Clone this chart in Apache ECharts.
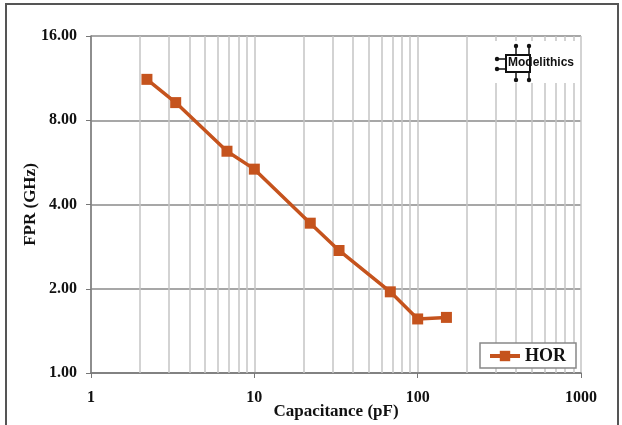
<!DOCTYPE html>
<html>
<head>
<meta charset="utf-8">
<script src="https://cdn.jsdelivr.net/npm/echarts@6/dist/echarts.min.js"></script>
<style>
  html, body { margin: 0; padding: 0; background: #fff; }
  #graph { width: 622px; height: 425px; }
</style>
</head>
<body>
<div id="graph"></div>
<script>
// capacitance (pF) and first parallel resonance (GHz)
var capacitance = [2.2, 3.3, 6.8, 10, 22, 33, 68, 100, 150];
var fpr = [11.2, 9.25, 6.2, 5.35, 3.43, 2.74, 1.95, 1.56, 1.58];
var yTicks = [1, 2, 4, 8, 16];
var xTicks = [1, 10, 100, 1000];

// minor vertical grid lines 2..9 in each decade
var minorX = [];
[1, 10, 100].forEach(function (d) {
    for (var k = 2; k <= 9; k++) minorX.push({ xAxis: k * d });
});

var dom = document.getElementById("graph");
var myChart = echarts.init(dom);
var serif = '"Liberation Serif", "DejaVu Serif", serif';
var ink = '#111';

function pin(x1, y1, x2, y2) {
    return [
        { type: 'line', z: 51, shape: { x1: x1, y1: y1, x2: x2, y2: y2 }, style: { stroke: ink, lineWidth: 1.5 } },
        { type: 'circle', z: 51, shape: { cx: x1, cy: y1, r: 2.2 }, style: { fill: ink } }
    ];
}

var logo = [
    { type: 'rect', z: 50, shape: { x: 492, y: 41, width: 86, height: 42 }, style: { fill: '#fff' } },
    { type: 'rect', z: 51, shape: { x: 506, y: 55, width: 24, height: 17 }, style: { fill: 'none', stroke: ink, lineWidth: 2 } }
].concat(
    pin(516, 46, 516, 55), pin(529, 46, 529, 55),
    pin(516, 80, 516, 72), pin(529, 80, 529, 72),
    pin(497, 59, 506, 59), pin(497, 69, 506, 69),
    [{
        type: 'text', x: 508, y: 57, z: 52,
        style: { text: 'Modelithics', fill: ink, font: 'bold 12px "Liberation Sans", Arial, sans-serif' }
    }]
);

var option = {
    backgroundColor: '#fff',
    animation: false,
    grid: { left: 91, right: 41, top: 36, bottom: 52, outerBoundsMode: 'none', containLabel: false },
    graphic: {
        elements: [
            {
                type: 'rect', shape: { x: 6, y: 4, width: 612, height: 430 },
                style: { fill: 'none', stroke: '#555', lineWidth: 2 }, z: 100
            }
        ].concat(logo)
    },
    legend: {
        right: 46, bottom: 57,
        data: ['HOR'],
        backgroundColor: '#fff',
        borderColor: '#888',
        borderWidth: 1.5,
        padding: [4, 10, 3, 8],
        itemWidth: 30,
        itemHeight: 13,
        itemGap: 4,
        itemStyle: { color: '#C5531D' },
        lineStyle: { width: 4 },
        textStyle: { fontFamily: serif, fontWeight: 'bold', fontSize: 18, color: ink }
    },
    xAxis: {
        type: 'log',
        logBase: 10,
        min: 1,
        max: 1000,
        name: 'Capacitance (pF)',
        nameLocation: 'middle',
        nameGap: 30,
        nameMoveOverlap: false,
        nameTextStyle: { fontFamily: serif, fontWeight: 'bold', fontSize: 17, color: ink },
        axisLine: { lineStyle: { color: '#777', width: 1.5 } },
        axisTick: { show: true, length: 5, lineStyle: { color: '#777' } },
        axisLabel: {
            fontFamily: serif, fontWeight: 'bold', fontSize: 16, color: ink, margin: 17,
            formatter: function (v) { return xTicks.indexOf(Math.round(v)) >= 0 ? String(Math.round(v)) : ''; }
        },
        splitLine: { show: true, lineStyle: { color: '#c4c4c4', width: 1.5 } }
    },
    yAxis: {
        type: 'log',
        logBase: 2,
        min: 1,
        max: 16,
        interval: 1,
        name: 'FPR (GHz)',
        nameLocation: 'middle',
        nameGap: 52,
        nameMoveOverlap: false,
        nameTextStyle: { fontFamily: serif, fontWeight: 'bold', fontSize: 17, color: ink },
        axisLine: { show: true, lineStyle: { color: '#777', width: 1.5 } },
        axisTick: { show: true, length: 5, lineStyle: { color: '#777' } },
        axisLabel: {
            fontFamily: serif, fontWeight: 'bold', fontSize: 16, color: ink, margin: 14,
            formatter: function (v) { return yTicks.indexOf(Math.round(v)) >= 0 ? Number(v).toFixed(2) : ''; }
        },
        splitLine: { show: true, lineStyle: { color: '#8a8a8a', width: 1.5 } }
    },
    series: [{
        name: 'HOR',
        type: 'line',
        data: capacitance.map(function (c, i) { return [c, fpr[i]]; }),
        symbol: 'rect',
        symbolSize: 11,
        itemStyle: { color: '#C5531D' },
        lineStyle: { color: '#C5531D', width: 3.5 },
        z: 10,
        markLine: {
            silent: true,
            symbol: 'none',
            label: { show: false },
            lineStyle: { color: '#c4c4c4', width: 1.5, type: 'solid' },
            data: minorX,
            z: 1
        }
    }]
};
myChart.setOption(option, true);
</script>
</body>
</html>
